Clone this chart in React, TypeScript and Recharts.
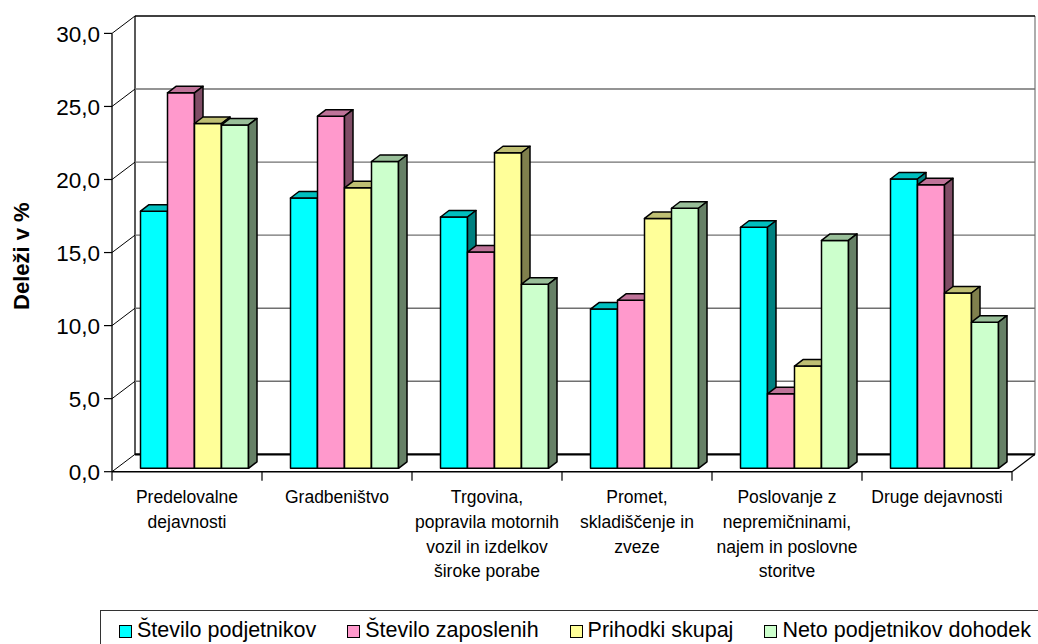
import React from 'react';
import { BarChart, Bar, XAxis, YAxis, CartesianGrid } from 'recharts';

// categories (line breaks as in the original axis labels)
const categories = [
  'Predelovalne\ndejavnosti',
  'Gradbeništvo',
  'Trgovina,\npopravila motornih\nvozil in izdelkov\nširoke porabe',
  'Promet,\nskladiščenje in\nzveze',
  'Poslovanje z\nnepremičninami,\nnajem in poslovne\nstoritve',
  'Druge dejavnosti',
];

const steviloPodjetnikov = [17.6, 18.5, 17.2, 10.9, 16.5, 19.8];
const steviloZaposlenih = [25.7, 24.1, 14.8, 11.5, 5.1, 19.4];
const prihodkiSkupaj = [23.6, 19.2, 21.6, 17.1, 7.0, 12.0];
const netoDohodek = [23.5, 21.0, 12.6, 17.8, 15.6, 10.0];

const seriesNames = ['Število podjetnikov', 'Število zaposlenih', 'Prihodki skupaj', 'Neto podjetnikov dohodek'];
const yTicks = [0, 5, 10, 15, 20, 25, 30];

const series = [
  { key: 'podjetniki', name: seriesNames[0], front: '#00FFFF', top: '#00BFBF', side: '#008080' },
  { key: 'zaposleni', name: seriesNames[1], front: '#FF99CC', top: '#BF7399', side: '#804D66' },
  { key: 'prihodki', name: seriesNames[2], front: '#FFFF99', top: '#BFBF73', side: '#80804D' },
  { key: 'neto', name: seriesNames[3], front: '#CCFFCC', top: '#99BF99', side: '#668066' },
];

const data = categories.map((name, i) => ({
  name,
  podjetniki: steviloPodjetnikov[i],
  zaposleni: steviloZaposlenih[i],
  prihodki: prihodkiSkupaj[i],
  neto: netoDohodek[i],
}));

// fake 3D: plot area is the bars' front plane, axis plane sits in front, wall behind
const FRONT = { dx: -7.5, dy: 3.4 };
const BACK = { dx: 15.5, dy: -14 };
const DEPTH = { dx: 8.5, dy: 6.5 };
const FONT = '"Liberation Sans", Arial, sans-serif';

const fmt = (v: number) => v.toFixed(1).replace('.', ',');

function makeBox(top: string, side: string) {
  return (p: any) => {
    const { x, y, width: w, height: h, fill } = p;
    if (h == null || w == null) return null;
    const { dx, dy } = DEPTH;
    return (
      <g stroke="#000" strokeWidth={1.5} strokeLinejoin="round">
        <rect x={x} y={y} width={w} height={h} fill={fill} />
        <polygon points={`${x},${y} ${x + dx},${y - dy} ${x + w + dx},${y - dy} ${x + w},${y}`} fill={top} />
        <polygon points={`${x + w},${y} ${x + w + dx},${y - dy} ${x + w + dx},${y + h - dy} ${x + w},${y + h}`} fill={side} />
      </g>
    );
  };
}

function frame(x: number, y: number, width: number, height: number) {
  const b = y + height;
  const r = x + width;
  return (
    <g>
      <line x1={r + BACK.dx} y1={y + BACK.dy} x2={r + BACK.dx} y2={b + BACK.dy} stroke="#808080" strokeWidth={1.3} />
      <line x1={x + BACK.dx} y1={y + BACK.dy} x2={x + BACK.dx} y2={b + BACK.dy} stroke="#000" strokeWidth={1.3} />
      <line x1={x + FRONT.dx} y1={y + FRONT.dy} x2={x + FRONT.dx} y2={b + FRONT.dy} stroke="#000" strokeWidth={1.3} />
      <line x1={x + FRONT.dx} y1={b + FRONT.dy} x2={r + FRONT.dx} y2={b + FRONT.dy} stroke="#000" strokeWidth={1.5} />
      <line x1={r + FRONT.dx} y1={b + FRONT.dy} x2={r + BACK.dx} y2={b + BACK.dy} stroke="#000" strokeWidth={1.2} />
    </g>
  );
}

function gridLine(props: any) {
  const { x1, y1, x2, index, x, y, width, height } = props;
  const bottom = y + height;
  const isTop = Math.abs(y1 - y) < 0.5;
  const isBottom = Math.abs(y1 - bottom) < 0.5;
  const fx = x1 + FRONT.dx;
  const fy = y1 + FRONT.dy;
  const bx = x1 + BACK.dx;
  const by = y1 + BACK.dy;
  return (
    <g key={`grid-${index}`}>
      {index === 0 && frame(x, y, width, height)}
      <line x1={fx} y1={fy} x2={bx} y2={by} stroke="#000" strokeWidth={1} />
      <line
        x1={bx}
        y1={by}
        x2={x2 + BACK.dx}
        y2={by}
        stroke={isTop || isBottom ? '#000' : '#707070'}
        strokeWidth={isBottom ? 2.2 : isTop ? 1.3 : 1.4}
      />
    </g>
  );
}

function YTick(props: any) {
  const { x, y, payload } = props;
  const ax = x + FRONT.dx;
  const ay = y + FRONT.dy;
  return (
    <g>
      <line x1={ax - 8} y1={ay} x2={ax} y2={ay} stroke="#000" strokeWidth={1.2} />
      <text x={ax - 12} y={ay} dy="0.36em" textAnchor="end" fontSize={22.5} fontFamily={FONT} fill="#000">
        {fmt(payload.value)}
      </text>
    </g>
  );
}

function XTick(props: any) {
  const { x, y, payload, index, width, visibleTicksCount } = props;
  const half = payload.offset ?? width / visibleTicksCount / 2;
  const ax = x + FRONT.dx;
  const ay = y + FRONT.dy;
  const lines = String(payload.value).split('\n');
  return (
    <g>
      <line x1={ax - half} y1={ay} x2={ax - half} y2={ay + 9} stroke="#000" strokeWidth={1.2} />
      {index === visibleTicksCount - 1 && (
        <line x1={ax + half} y1={ay} x2={ax + half} y2={ay + 9} stroke="#000" strokeWidth={1.2} />
      )}
      <text x={ax} y={ay + 31.4} textAnchor="middle" fontSize={17.5} fontFamily={FONT} fill="#000">
        {lines.map((l, i) => (
          <tspan key={i} x={ax} dy={i === 0 ? 0 : 24.7}>
            {l}
          </tspan>
        ))}
      </text>
    </g>
  );
}

function YTitle(props: any) {
  const { viewBox } = props;
  const cx = viewBox.x - 37.5;
  const cy = viewBox.y + viewBox.height / 2 + 7;
  return (
    <text
      x={cx}
      y={cy}
      transform={`rotate(-90 ${cx} ${cy})`}
      textAnchor="middle"
      dominantBaseline="central"
      fontSize={22}
      fontWeight="bold"
      fontFamily={FONT}
      fill="#000"
    >
      Deleži v %
    </text>
  );
}

export default function App() {
  return (
    <div style={{ position: 'relative', width: 1038, height: 644, overflow: 'hidden', background: '#fff', fontFamily: FONT }}>
      <style>{'body{margin:0}'}</style>
      <BarChart
        width={1038}
        height={644}
        data={data}
        margin={{ top: 30, right: 18.5, left: 59.5, bottom: 75.7 }}
        barCategoryGap={21}
        barGap={0}
      >
        <CartesianGrid vertical={false} horizontal={gridLine} syncWithTicks />
        <XAxis
          dataKey="name"
          height={100}
          axisLine={false}
          tickLine={false}
          tickSize={0}
          tickMargin={0}
          interval={0}
          tick={<XTick />}
        />
        <YAxis
          width={60}
          domain={[0, 30]}
          ticks={yTicks}
          interval={0}
          axisLine={false}
          tickLine={false}
          tickSize={0}
          tickMargin={0}
          tick={<YTick />}
          label={<YTitle />}
        />
        {series.map((s) => (
          <Bar
            key={s.key}
            dataKey={s.key}
            name={s.name}
            fill={s.front}
            shape={makeBox(s.top, s.side)}
            isAnimationActive={false}
          />
        ))}
      </BarChart>
      <div
        style={{
          position: 'absolute',
          left: 100,
          top: 610,
          width: 960,
          height: 40,
          borderTop: '1px solid #333',
          borderLeft: '1px solid #333',
          display: 'flex',
          alignItems: 'center',
          gap: 31,
          paddingLeft: 18,
          boxSizing: 'border-box',
          fontSize: 21.5,
          color: '#000',
          whiteSpace: 'nowrap',
        }}
      >
        {series.map((s) => (
          <div key={s.key} style={{ display: 'flex', alignItems: 'center' }}>
            <span
              style={{
                display: 'inline-block',
                width: 11,
                height: 11,
                background: s.front,
                border: '1px solid #000',
                marginRight: 5,
                marginTop: 2,
              }}
            />
            <span>{s.name}</span>
          </div>
        ))}
      </div>
    </div>
  );
}
